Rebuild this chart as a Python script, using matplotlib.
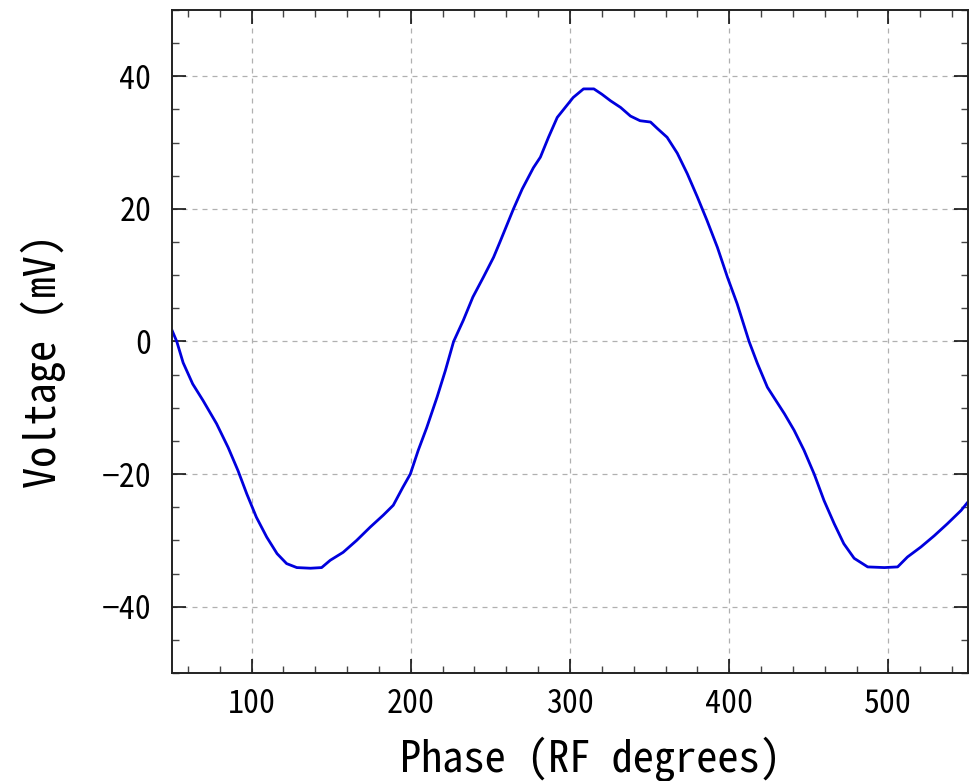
"""Phase scan: voltage vs RF phase."""

import matplotlib

matplotlib.use("Agg")
import matplotlib.pyplot as plt
from matplotlib.ticker import MultipleLocator

# values
phase_deg = [
    50, 53, 57, 63, 69.5, 78, 85.3, 91.5, 97, 103, 109.5, 116, 122, 128.4,
    137, 144, 149.4, 157.5, 166, 174.5, 182.7, 189, 195, 199.7, 204.7, 210,
    216.5, 221.7, 226.9, 233, 239, 245.6, 252, 256, 264.5, 270, 277, 281.4,
    286.5, 292, 297, 302, 308.5, 315, 320, 325.5, 331.8, 338, 344, 350.6,
    355, 361, 367.4, 373.7, 380, 386, 392.6, 398.9, 405, 412.5, 417.7, 424,
    428, 434.7, 440.8, 447, 453.4, 459.6, 466, 472, 478.5, 487, 497.5,
    505.8, 512, 520.4, 528.8, 537, 545.6, 550,
]
voltage_mv = [
    1.7, 0, -3.2, -6.4, -8.9, -12.4, -16, -19.5, -23, -26.5, -29.5, -32,
    -33.5, -34.1, -34.2, -34.1, -33, -31.8, -30, -28, -26.2, -24.7, -22,
    -20, -16.4, -13, -8.4, -4.4, 0, 3.2, 6.7, 9.7, 12.7, 15, 20, 23, 26.2,
    27.8, 30.8, 33.8, 35.3, 36.8, 38.1, 38.1, 37.3, 36.3, 35.3, 34, 33.3,
    33.1, 32.1, 30.8, 28.4, 25.3, 21.8, 18.3, 14.2, 9.7, 5.7, 0, -3.3, -6.9,
    -8.4, -10.9, -13.4, -16.4, -20, -24, -27.5, -30.5, -32.7, -34, -34.1,
    -34, -32.5, -31, -29.3, -27.5, -25.5, -24.2,
]

x_label = "Phase (RF degrees)"
y_label = "Voltage (mV)"

plt.rcParams["font.family"] = ["Noto Sans Mono CJK JP", "DejaVu Sans Mono"]

fig = plt.figure(figsize=(9.75, 7.81), dpi=100)
ax = fig.add_axes([0.1764, 0.1383, 0.8164, 0.8489])

ax.plot(phase_deg, voltage_mv, color="#0000dd", lw=2.0)

ax.set_xlim(50, 550)
ax.set_ylim(-50, 50)
ax.xaxis.set_major_locator(MultipleLocator(100))
ax.xaxis.set_minor_locator(MultipleLocator(20))
ax.yaxis.set_major_locator(MultipleLocator(20))
ax.yaxis.set_minor_locator(MultipleLocator(5))

ax.grid(True, which="major", ls=(0, (4, 4)), color="#b0b0b0", lw=0.9)
ax.tick_params(which="both", direction="in", top=True, right=True)
ax.tick_params(which="major", length=10, width=1.1, labelsize=23, pad=11)
ax.tick_params(which="minor", length=5, width=1.0, color="#444444")
ax.tick_params(axis="y", which="major", pad=15)

for side in ax.spines.values():
    side.set_linewidth(1.4)
    side.set_color("#222222")

ax.set_xlabel(x_label, fontsize=30.5, labelpad=12)
ax.set_ylabel(y_label, fontsize=30.5)
ax.yaxis.set_label_coords(-0.133, 0.47)
ax.xaxis.label.set_x(0.526)

fig.savefig("out.png", dpi=100)
